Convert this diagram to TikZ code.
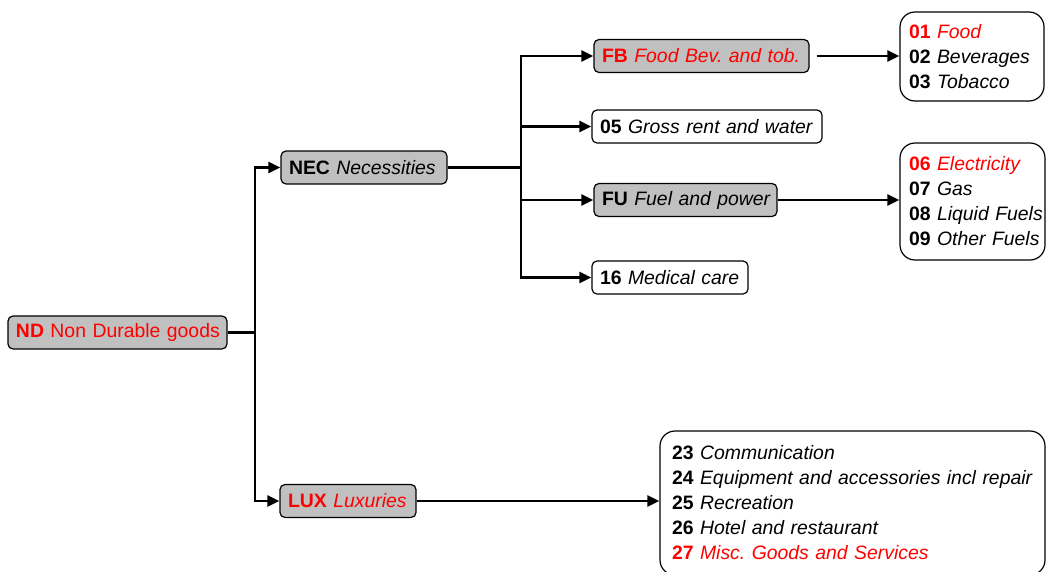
\documentclass[tikz,border=0pt]{standalone}
\usepackage{fontspec}
\setmainfont{Liberation Sans}
\usetikzlibrary{arrows.meta}
\definecolor{boxgray}{HTML}{C0C0C0}
\definecolor{redtxt}{HTML}{FF0000}
\newcommand{\mybfont}{\fontsize{19.4}{25}\selectfont\frenchspacing\hbadness=10000 \hfuzz=80pt\relax}
\newcommand{\rowln}[1]{\mbox{#1}}
\tikzset{
  basebox/.style={draw, line width=1.2pt, align=left, inner xsep=8pt, inner ysep=0pt,
    font=\mybfont},
  catbox/.style={basebox, rounded corners=5pt, fill=boxgray, minimum height=33pt},
  leafbox/.style={basebox, rounded corners=5pt, fill=white, minimum height=33pt},
  listbox/.style={basebox, rounded corners=15pt, fill=white},
  conn/.style={line width=2.6pt},
  arr/.style={conn, -{Triangle[length=12pt,width=11pt]}},
}
\begin{document}
\begin{tikzpicture}[x=1pt,y={(0pt,-1pt)}]
\useasboundingbox (0,0) rectangle (1047,571);
% category boxes
\node[catbox, text width=203pt] (ND) at (117.5,332.5) {\rowln{\textcolor{redtxt}{\textbf{ND} Non Durable goods}}};
\node[catbox, text width=150pt] (NEC) at (364,167.5) {\rowln{\textbf{NEC} \textit{Necessities}}};
\node[catbox, text width=120pt] (LUX) at (348,501) {\rowln{\textcolor{redtxt}{\textbf{LUX} \textit{Luxuries}}}};
\node[catbox, text width=199pt] (FB) at (701.5,56) {\rowln{\textcolor{redtxt}{\textbf{FB} \textit{Food Bev. and tob.}}}};
\node[leafbox, text width=214pt] (G05) at (707,126.5) {\rowln{\textbf{05} \textit{Gross rent and water}}};
\node[catbox, text width=167pt] (FU) at (685.5,200) {\rowln{\textbf{FU} \textit{Fuel and power}}};
\node[leafbox, text width=140pt] (G16) at (670,277.5) {\rowln{\textbf{16} \textit{Medical care}}};
% list boxes
\node[listbox, inner xsep=9pt, text width=126pt, minimum height=89pt] (L1) at (972,56.5)
  {\rowln{\textcolor{redtxt}{\textbf{01} \textit{Food}}}\\ \rowln{\textbf{02} \textit{Beverages}}\\ \rowln{\textbf{03} \textit{Tobacco}}};
\node[listbox, inner xsep=9pt, text width=127pt, minimum height=117pt] (L2) at (972.5,201.5)
  {\rowln{\textcolor{redtxt}{\textbf{06} \textit{Electricity}}}\\ \rowln{\textbf{07} \textit{Gas}}\\ \rowln{\textbf{08} \textit{Liquid Fuels}}\\ \rowln{\textbf{09} \textit{Other Fuels}}};
\node[listbox, inner xsep=12pt, text width=361pt, minimum height=144pt] (L3) at (852.5,503)
  {\rowln{\textbf{23} \textit{Communication}}\\ \rowln{\textbf{24} \textit{Equipment and accessories incl repair}}\\ \rowln{\textbf{25} \textit{Recreation}}\\ \rowln{\textbf{26} \textit{Hotel and restaurant}}\\ \rowln{\textcolor{redtxt}{\textbf{27} \textit{Misc. Goods and Services}}}};
% junctions
\coordinate (J1) at (255,332.5);
\coordinate (J2) at (521,167.5);
% connectors
\draw[conn] (ND.east) -- (J1);
\draw[arr] (J1) |- (NEC.west);
\draw[arr] (J1) |- (LUX.west);
\draw[conn] (NEC.east) -- (J2);
\draw[arr] (J2) |- (FB.west);
\draw[arr] (J2) |- (G05.west);
\draw[arr] (J2) |- (FU.west);
\draw[arr] (J2) |- (G16.west);
\draw[arr] ([xshift=7pt]FB.east) -- (FB.east -| L1.west);
\draw[arr] (FU.east) -- (FU.east -| L2.west);
\draw[arr] (LUX.east) -- (LUX.east -| L3.west);
\end{tikzpicture}
\end{document}
